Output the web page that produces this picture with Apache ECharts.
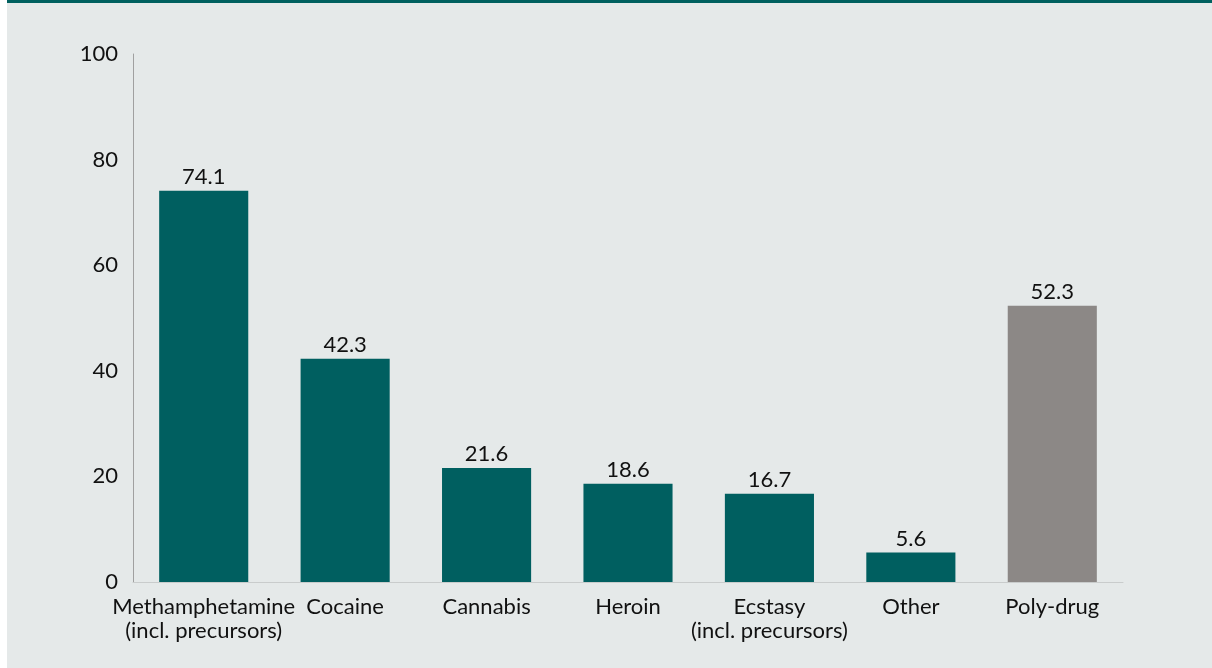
<!DOCTYPE html>
<html>
<head>
<meta charset="utf-8">
<script src="https://cdn.jsdelivr.net/npm/echarts@6/dist/echarts.min.js"></script>
<style>
html,body{margin:0;padding:0;background:#ffffff;}
#chart{width:1212px;height:668px;}
</style>
</head>
<body>
<div id="chart"></div>
<script>
const categories = ["Methamphetamine\n(incl. precursors)", "Cocaine", "Cannabis", "Heroin", "Ecstasy\n(incl. precursors)", "Other", "Poly-drug"];
const values = [74.1, 42.3, 21.6, 18.6, 16.7, 5.6, 52.3];
const barColors = ["#005f60", "#005f60", "#005f60", "#005f60", "#005f60", "#005f60", "#8c8886"];
const yTicks = [0, 20, 40, 60, 80, 100];

const chart = echarts.init(document.getElementById('chart'));
const FONT = 'Lato';
chart.setOption({
  backgroundColor: '#ffffff',
  animation: false,
  graphic: [
    {type: 'rect', z: -10, shape: {x: 7, y: 0, width: 1205, height: 668}, style: {fill: '#e5e9e9'}},
    {type: 'rect', z: -9, shape: {x: 7, y: 0, width: 1205, height: 3}, style: {fill: '#00605f'}}
  ],
  grid: {left: 133, right: 89, top: 54, bottom: 86},
  xAxis: {
    type: 'category',
    data: categories,
    axisLine: {show: true, lineStyle: {color: '#c9cccc', width: 1}},
    axisTick: {show: false},
    axisLabel: {color: '#111', fontFamily: FONT, fontSize: 22, lineHeight: 24, margin: 13, interval: 0}
  },
  yAxis: {
    type: 'value',
    min: 0, max: 100, interval: 20,
    axisLine: {show: true, lineStyle: {color: '#a0a0a0', width: 1}},
    axisTick: {show: false},
    splitLine: {show: false},
    axisLabel: {color: '#111', fontFamily: FONT, fontSize: 22, margin: 15,
      formatter: v => yTicks.includes(v) ? String(v) : ''}
  },
  series: [{
    type: 'bar',
    barWidth: '63%',
    data: values.map((v, i) => ({value: v, itemStyle: {color: barColors[i]}})),
    label: {show: true, position: 'top', distance: 3, color: '#111', fontFamily: FONT, fontSize: 22,
      formatter: p => p.value.toFixed(1)}
  }]
});
</script>
</body>
</html>
